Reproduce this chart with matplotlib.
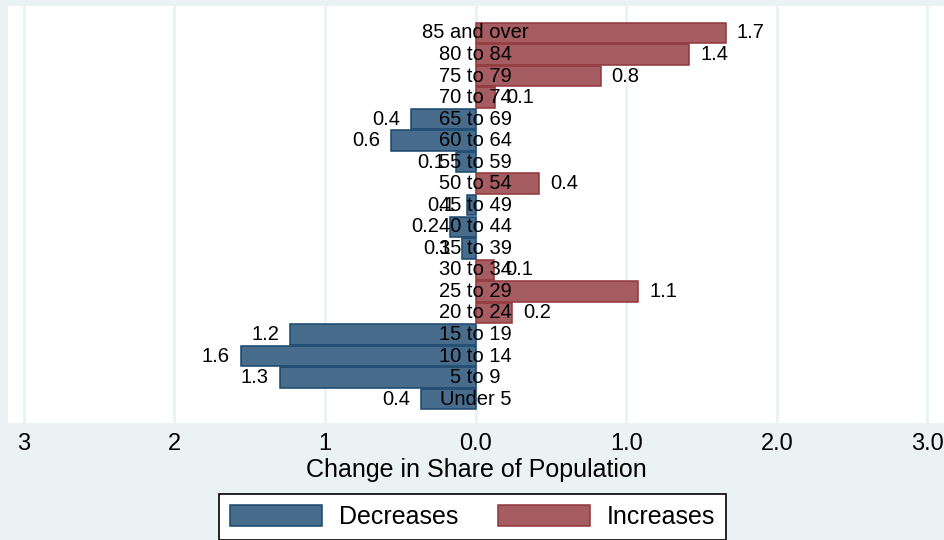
import matplotlib
matplotlib.use("Agg")
import matplotlib.pyplot as plt
import numpy as np

plt.rcParams['font.family'] = ['Liberation Sans', 'DejaVu Sans']

# age groups, bottom to top
ages = ["Under 5", "5 to 9", "10 to 14", "15 to 19", "20 to 24", "25 to 29",
        "30 to 34", "35 to 39", "40 to 44", "45 to 49", "50 to 54", "55 to 59",
        "60 to 64", "65 to 69", "70 to 74", "75 to 79", "80 to 84", "85 and over"]
# change in share of population (percentage points)
change = [-0.36, -1.30, -1.56, -1.23, 0.24, 1.08,
          0.12, -0.09, -0.17, -0.06, 0.42, -0.13,
          -0.56, -0.43, 0.13, 0.83, 1.42, 1.66]

xticks = [-3, -2, -1, 0, 1, 2, 3]
xticklabels = ["3", "2", "1", "0.0", "1.0", "2.0", "3.0"]

bg = "#eaf2f3"
blue_fill, blue_edge = "#486c8c", "#1a476f"
red_fill, red_edge = "#a65d62", "#90353b"

change = np.array(change)
y = np.arange(len(ages))
dec = np.where(change < 0, change, np.nan)
inc = np.where(change > 0, change, np.nan)

fig = plt.figure(figsize=(9.44, 5.4), dpi=100, facecolor=bg)
ax = fig.add_axes([8/944, 1-423/540, 1-8/944, (423-6)/540])
ax.set_facecolor("white")

b1 = ax.barh(y, dec, height=0.95, color=blue_fill, edgecolor=blue_edge,
             linewidth=1.1, label="Decreases", zorder=2)
b2 = ax.barh(y, inc, height=0.95, color=red_fill, edgecolor=red_edge,
             linewidth=1.1, label="Increases", zorder=2)

# value labels outside bar ends
for yi, v in zip(y, change):
    if v < 0:
        ax.annotate(f"{abs(v):.1f}", (v, yi), xytext=(-8, 0), textcoords="offset points",
                    ha="right", va="center", fontsize=14.5, zorder=4)
    else:
        ax.annotate(f"{v:.1f}", (v, yi), xytext=(8, 0), textcoords="offset points",
                    ha="left", va="center", fontsize=14.5, zorder=4)

# age group names centred on zero
for yi, name in zip(y, ages):
    ax.text(0, yi, name, ha="center", va="center", fontsize=14.5, zorder=5)

ax.set_xlim(-3.105, 3.11)
ax.set_ylim(-1.11, 18.25)
ax.set_xticks(xticks)
ax.set_xticklabels(xticklabels, fontsize=17)
ax.set_yticks([])
ax.tick_params(axis="x", length=0, pad=7)
ax.grid(axis="x", color=bg, linewidth=2, zorder=0)
ax.set_axisbelow(True)
for s in ax.spines.values():
    s.set_visible(False)
ax.set_xlabel("Change in Share of Population", fontsize=18, labelpad=2)

leg = fig.legend(handles=[b1, b2], loc="center", bbox_to_anchor=(0.5005, 1-517/540),
                 ncol=2, fontsize=18, frameon=True, fancybox=False, edgecolor="black",
                 facecolor="white", framealpha=1, handlelength=3.7, handleheight=0.95,
                 handletextpad=0.65, columnspacing=1.6, borderpad=0.45)
leg.get_frame().set_linewidth(1.2)

fig.savefig("out.png", dpi=100, facecolor=bg)
